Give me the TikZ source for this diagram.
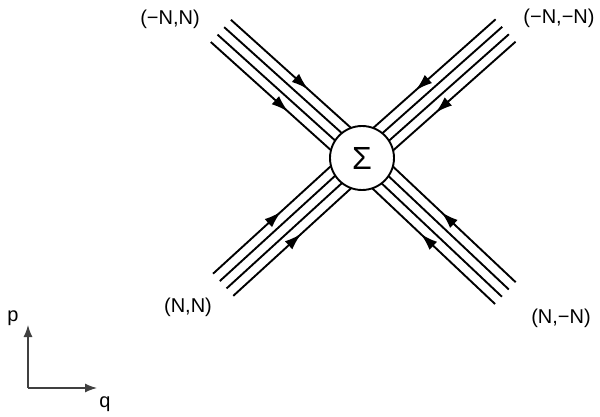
\documentclass[tikz,border=0pt]{standalone}
\usepackage{fontspec}
\setmainfont{Liberation Sans}
\usetikzlibrary{arrows.meta,decorations.markings}
\begin{document}
\begin{tikzpicture}[x=1pt,y=1pt,
  strand/.style={line width=1.9pt, black},
  arr/.style={strand, postaction={decorate}, decoration={markings,
      mark=at position #1 with {\arrow{Latex[length=17pt,width=11pt]}}}},
  lbl/.style={font=\fontsize{20}{24}\selectfont, inner sep=0pt},
  axis/.style={line width=1.3pt, black!75, -{Latex[length=12pt,width=9pt]}}]
\useasboundingbox (0,0) rectangle (600,416);
\coordinate (c) at (362,258);
% bundles: angle / length / arrow position
\foreach \ang/\len/\ap in {138/190/86, 41.6/192/85, 222.4/188/96, -43.3/197/95}{
  \begin{scope}[shift={(c)}, rotate=\ang]
    \pgfmathsetmacro{\myfrac}{(\len-\ap)/\len}
    \foreach \d in {-15,15}{
      \draw[arr=\myfrac] (\len,\d) -- (0,\d);
    }
    \foreach \d in {-5,5}{
      \draw[strand] (\len,\d) -- (0,\d);
    }
  \end{scope}
}
\node[circle, draw, line width=1.9pt, fill=white, minimum size=64pt, inner sep=0pt,
      font=\fontsize{32}{34}\selectfont] (S) at (c) {Σ};
\node[lbl] (ul) at (170,397) {(−N,N)};
\node[lbl] (ur) at (559,398) {(−N,−N)};
\node[lbl] (ll) at (188,109) {(N,N)};
\node[lbl] (lr) at (561,98) {(N,−N)};
% axes
\coordinate (o) at (28,28);
\coordinate (pt) at (28,91);
\coordinate (qt) at (97,28);
\draw[axis] (o) -- (pt);
\draw[axis] (o) -- (qt);
\node[lbl] (p) at (13,98) {p};
\node[lbl] (q) at (105,12) {q};
\end{tikzpicture}
\end{document}
